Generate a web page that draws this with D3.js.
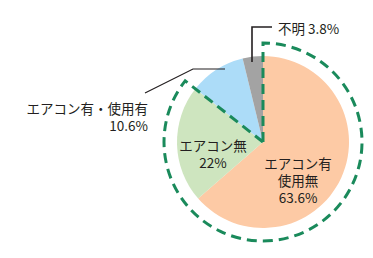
<!DOCTYPE html>
<html><head><meta charset="utf-8">
<script src="https://cdn.jsdelivr.net/npm/d3@7"></script>
<style>body{margin:0;background:#fff;}svg{display:block;}text{font-family:"Noto Sans CJK JP","Noto Sans",sans-serif;fill:#231f20;}</style>
</head><body>
<svg id="c" width="373" height="258"></svg>
<script>
const categories = ["エアコン有・使用無", "エアコン無", "エアコン有・使用有", "不明"];
const values = [63.6, 22, 10.6, 3.8];
const colors = ["#fdcaa5", "#cee5bf", "#acdcf8", "#a3a3a3"];
const labels = ["63.6%", "22%", "10.6%", "3.8%"];

const svg = d3.select("#c");
const cx = 263, cy = 142, R = 86, Rd = 99;
const g = svg.append("g").attr("transform", `translate(${cx},${cy})`);
const pie = d3.pie().sort(null).value(d => d)(values);
const arc = d3.arc().innerRadius(0).outerRadius(R);
g.selectAll("path.s").data(pie).join("path").attr("class","s")
  .attr("d", arc).attr("fill", (d,i) => colors[i]);

// dashed outline around first two slices
const endA = pie[1].endAngle;
const dash = d3.path();
dash.moveTo(0,0);
dash.lineTo(0,-Rd);
dash.arc(0,0,Rd,-Math.PI/2,endA-Math.PI/2,false);
dash.closePath();
g.append("path").attr("d", dash.toString()).attr("fill","none")
  .attr("stroke","#1a8a5b").attr("stroke-width",3).attr("stroke-dasharray","10,6")
  .attr("stroke-linejoin","miter");

// leader lines
svg.append("polyline").attr("points","252,62 252,27 272,27").attr("fill","none").attr("stroke","#231f20").attr("stroke-width",1.6);
svg.append("polyline").attr("points","225,69 193,69 145,93").attr("fill","none").attr("stroke","#231f20").attr("stroke-width",1.2);

const fs = 13.5;
function t(x,y,s,anchor){svg.append("text").attr("x",x).attr("y",y).attr("text-anchor",anchor).attr("font-size",fs).attr("dominant-baseline","central").text(s);}
t(278,28,"不明 " + labels[3],"start");
t(148,108,"エアコン有・使用有","end");
t(148,125,labels[2],"end");
t(213,145,"エアコン無","middle");
t(213,162,labels[1],"middle");
t(298,163,"エアコン有","middle");
t(298,180,"使用無","middle");
t(298,197,labels[0],"middle");
</script>
</body></html>
